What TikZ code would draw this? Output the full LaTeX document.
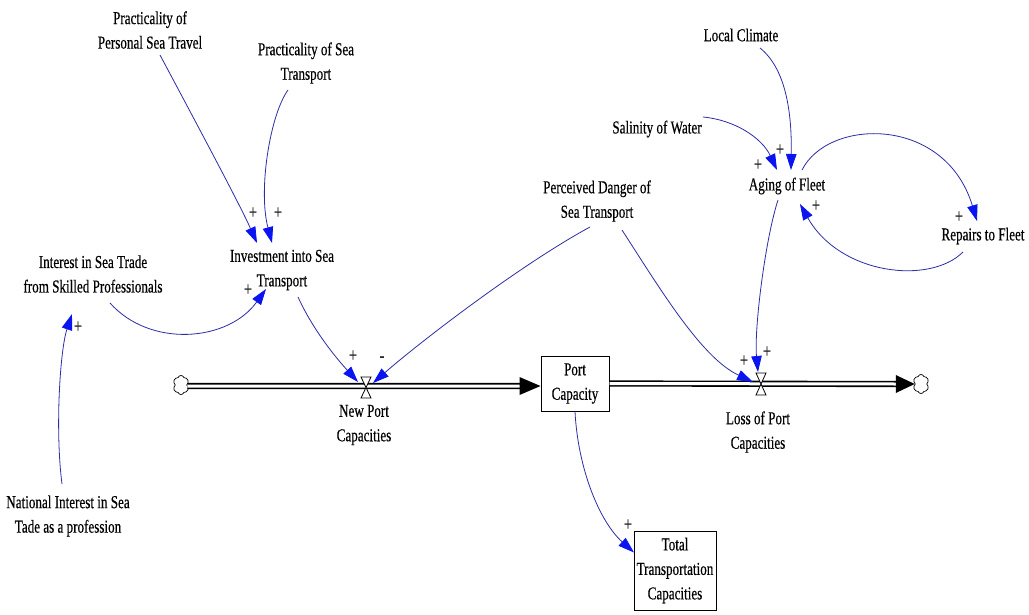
\documentclass[tikz,border=0pt]{standalone}
\usepackage{fontspec}
\setmainfont{Liberation Serif}[FakeStretch=0.72,FakeBold=0.4]
\usetikzlibrary{arrows.meta,calc,shapes.symbols}
\definecolor{linkblue}{RGB}{45,45,165}
\definecolor{arrowblue}{RGB}{10,20,240}
\newcommand{\lblfont}{\fontsize{18.2}{24.5}\selectfont}
\newcommand{\polfont}{\fontsize{20}{20}\selectfont}
\tikzset{
  lbl/.style={align=center, inner sep=0pt, font=\lblfont, text=black},
  stock/.style={draw, line width=1pt, align=center, inner sep=0pt, font=\lblfont},
  conn/.style={draw=linkblue, line width=0.8pt, -{Triangle[length=16pt,width=10.5pt,fill=arrowblue,color=arrowblue]}},
  pol/.style={font=\polfont, inner sep=0pt, text=black!85},
  pipe/.style={draw=black, double=white, double distance=3pt, line width=1.6pt},
  valve/.style={draw=black, fill=white, line width=0.8pt},
  src/.style={shape=cloud, draw=black, line width=0.7pt, cloud puffs=6, cloud puff arc=140, aspect=0.85, minimum width=16pt, minimum height=19pt, inner sep=0pt}
}
\begin{document}
\begin{tikzpicture}[x=1pt,y=-1pt]
\useasboundingbox[fill=white] (0,0) rectangle (1029,614);

% auxiliary variables
\node[lbl] (ppst) at (150,30) {Practicality of\\Personal Sea Travel};
\node[lbl] (pst)  at (306,63) {Practicality of Sea\\Transport};
\node[lbl] (lc)   at (741,35) {Local Climate};
\node[lbl] (sw)   at (657,129) {Salinity of Water};
\node[lbl] (af)   at (787,186) {Aging of Fleet};
\node[lbl] (rf)   at (983,236) {Repairs to Fleet};
\node[lbl] (pd)   at (597,201) {Perceived Danger of\\Sea Transport};
\node[lbl] (ist)  at (282,270) {Investment into Sea\\Transport};
\node[lbl] (ist2) at (93,274) {Interest in Sea Trade\\from Skilled Professionals};
\node[lbl] (ni)   at (68,516) {National Interest in Sea\\Tade as a profession};

% stocks
\node[stock, minimum width=68pt, minimum height=55pt] (pc) at (575,383.5) {Port\\Capacity};
\node[stock, minimum width=82pt, minimum height=79pt] (ttc) at (675,570.5) {Total\\Transportation\\Capacities};

% sources / sinks
\node[src] (c1) at (181,385) {};
\node[src] (c2) at (921,384) {};

% flows (pipes)
\draw[pipe] ($(c1.east)+(0,1)$) -- ($(pc.west)+(-17,2.5)$);
\fill[black] ($(pc.west)+(-21,-6.5)$) -- ($(pc.west)+(0,2.5)$) -- ($(pc.west)+(-21,11.5)$) -- cycle;
\draw[pipe] (pc.east) -- ($(c2.west)+(-16,0)$);
\fill[black] ($(c2.west)+(-19,-9)$) -- (c2.west) -- ($(c2.west)+(-19,9)$) -- cycle;

% valves
\coordinate (v1) at (366,387);
\coordinate (v2) at (761,384);
\draw[valve] ($(v1)+(-5,-10)$) -- ($(v1)+(5,-10)$) -- ($(v1)+(-5,11)$) -- ($(v1)+(5,11)$) -- cycle;
\draw[valve] ($(v2)+(-5,-11)$) -- ($(v2)+(5,-11)$) -- ($(v2)+(-5,11)$) -- ($(v2)+(5,11)$) -- cycle;

% flow labels
\node[lbl] (npc) at (364,425) {New Port\\Capacities};
\node[lbl] (lpc) at (758,432) {Loss of Port\\Capacities};

% causal links
\draw[conn] ($(ppst.center)+(10,25)$) .. controls (200,130) and (240,205) .. ($(ist.center)+(-25,-27)$);
\draw[conn] ($(pst.center)+(-18,27)$) .. controls (270,115) and (258,190) .. ($(ist.center)+(-10,-27)$);
\draw[conn] ($(ist2.center)+(17,29)$) .. controls (150,348) and (228,342) .. ($(ist.center)+(-16,19)$);
\draw[conn] ($(ni.center)+(-6,-32)$) .. controls (55,430) and (60,350) .. ($(ist2.center)+(-21,40)$);
\draw[conn] ($(ist.center)+(16,27)$) .. controls (314,332) and (338,360) .. ($(v1)+(-8,-5)$);
\draw[conn] ($(pd.center)+(-7,26)$) .. controls (520,265) and (420,342) .. ($(v1)+(7,-4)$);
\draw[conn] ($(pd.center)+(25,29)$) .. controls (662,292) and (702,358) .. ($(v2)+(-8,-2)$);
\draw[conn] ($(af.center)+(-9,14)$) .. controls (765,240) and (754,330) .. ($(v2)+(-3,-12)$);
\draw[conn] ($(lc.center)+(19,13)$) .. controls (785,68) and (792,110) .. ($(af.center)+(4,-16)$);
\draw[conn] ($(sw.center)+(46,-12)$) .. controls (735,120) and (762,138) .. ($(af.center)+(-10,-16)$);
\draw[conn] ($(af.center)+(15,-16)$) .. controls (828,118) and (945,115) .. ($(rf.center)+(-6,-15)$);
\draw[conn] ($(rf.center)+(-20,16)$) .. controls (930,285) and (840,275) .. ($(af.center)+(13,18)$);
\draw[conn] (pc.south) .. controls (578,470) and (600,522) .. ($(ttc.center)+(-41,-18)$);

% polarities
\node[pol] (p1)  at (253,213) {+};
\node[pol] (p2)  at (278,213) {+};
\node[pol] (p3)  at (248,290) {+};
\node[pol] (p4)  at (78,327) {+};
\node[pol] (p5)  at (353,356) {+};
\node[pol] (p6)  at (382,359) {-};
\node[pol] (p7)  at (744,361) {+};
\node[pol] (p8)  at (767,352) {+};
\node[pol] (p9)  at (780,150) {+};
\node[pol] (p10) at (758,165) {+};
\node[pol] (p11) at (959,217) {+};
\node[pol] (p12) at (816,206) {+};
\node[pol] (p13) at (628,525) {+};
\end{tikzpicture}
\end{document}
